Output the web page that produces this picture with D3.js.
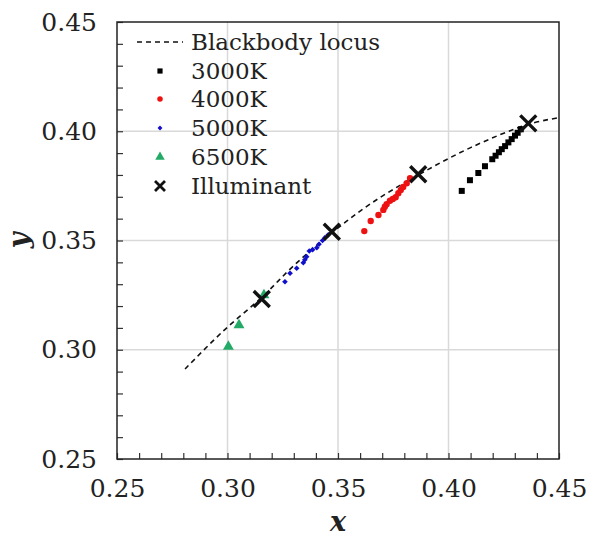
<!DOCTYPE html>
<meta charset="utf-8">
<div id="area"></div>
<script src="https://d3js.org/d3.v7.min.js"></script>
<style>
  body { margin: 0; background: #fff; }
  text { font-family: "DejaVu Serif", serif; fill: #222; }
  .legend text { font-size: 23px; }
  .axis-title { font-size: 27px; font-weight: bold; font-style: italic; }
</style>
<script>
// chromaticity points, [x, y]
var cct3000 = [[0.4060,0.3727],[0.4097,0.3776],[0.4135,0.3809],[0.4165,0.3840],[0.4198,0.3872],
  [0.4213,0.3888],[0.4228,0.3904],[0.4241,0.3918],[0.4256,0.3932],[0.4271,0.3949],
  [0.4286,0.3964],[0.4301,0.3980],[0.4313,0.3993],[0.4327,0.4009]];
var cct4000 = [[0.3619,0.3543],[0.3648,0.3589],[0.3683,0.3617],[0.3705,0.3640],[0.3712,0.3655],
  [0.3720,0.3666],[0.3735,0.3682],[0.3748,0.3690],[0.3761,0.3698],[0.3773,0.3716],
  [0.3784,0.3731],[0.3795,0.3745],[0.3811,0.3762],[0.3826,0.3785]];
var cct5000 = [[0.3260,0.3311],[0.3283,0.3350],[0.3313,0.3373],[0.3343,0.3398],[0.3350,0.3412],
  [0.3358,0.3426],[0.3370,0.3452],[0.3385,0.3458],[0.3404,0.3467],[0.3414,0.3483],
  [0.3430,0.3500],[0.3441,0.3513],[0.3456,0.3526]];
var cct6500 = [[0.3004,0.3014],[0.3052,0.3113],[0.3165,0.3250]];
var illuminants = [[0.3155,0.3232],[0.3472,0.3540],[0.3863,0.3803],[0.4361,0.4036]];
var locus = [[0.2808,0.2912],[0.2980,0.3085],[0.3155,0.3240],[0.3300,0.3385],[0.3472,0.3535],
  [0.3650,0.3670],[0.3863,0.3800],[0.4100,0.3925],[0.4361,0.4032],[0.4500,0.4062]];
var ticks = [0.25, 0.30, 0.35, 0.40, 0.45];

var W = 590, H = 540;
var margin = {top: 22, right: 31, bottom: 81, left: 117};

var svg = d3.select("#area").append("svg")
  .attr("width", W).attr("height", H);

var x = d3.scaleLinear().domain([0.25, 0.45]).range([margin.left, W - margin.right]);
var y = d3.scaleLinear().domain([0.25, 0.45]).range([H - margin.bottom, margin.top]);

// grid
svg.append("g").selectAll("line").data(ticks.slice(1, -1)).enter().append("line")
  .attr("x1", function(d) { return x(d); }).attr("x2", function(d) { return x(d); })
  .attr("y1", y(0.25)).attr("y2", y(0.45))
  .attr("stroke", "#d9d9d9").attr("stroke-width", 1.5);
svg.append("g").selectAll("line").data(ticks.slice(1, -1)).enter().append("line")
  .attr("y1", function(d) { return y(d); }).attr("y2", function(d) { return y(d); })
  .attr("x1", x(0.25)).attr("x2", x(0.45))
  .attr("stroke", "#d9d9d9").attr("stroke-width", 1.5);

// minor ticks, inward
var minor = d3.range(0, 21).map(function(i) { return 0.25 + i * 0.01; });
svg.append("g").attr("transform", "translate(0," + y(0.25) + ")")
  .call(d3.axisBottom(x).tickValues(minor).tickSize(-6).tickFormat(""))
  .call(function(g) { g.select(".domain").remove(); })
  .selectAll("line").attr("stroke", "#333").attr("stroke-width", 1.2);
svg.append("g").attr("transform", "translate(" + x(0.25) + ",0)")
  .call(d3.axisLeft(y).tickValues(minor).tickSize(-6).tickFormat(""))
  .call(function(g) { g.select(".domain").remove(); })
  .selectAll("line").attr("stroke", "#333").attr("stroke-width", 1.2);

// labels
svg.append("g").attr("transform", "translate(0," + y(0.25) + ")")
  .call(d3.axisBottom(x).tickValues(ticks).tickSize(0).tickPadding(15).tickFormat(d3.format(".2f")))
  .call(function(g) { g.select(".domain").remove(); })
  .selectAll("text").attr("fill", "#222").attr("dy", "0.9em");
svg.append("g").attr("transform", "translate(" + x(0.25) + ",0)")
  .call(d3.axisLeft(y).tickValues(ticks).tickSize(0).tickPadding(20).tickFormat(d3.format(".2f")))
  .call(function(g) { g.select(".domain").remove(); })
  .selectAll("text").attr("fill", "#222");
svg.selectAll(".tick text").style("font-family", "'DejaVu Serif', serif").style("font-size", "25px");

// frame
svg.append("rect")
  .attr("x", x(0.25)).attr("y", y(0.45))
  .attr("width", x(0.45) - x(0.25)).attr("height", y(0.25) - y(0.45))
  .attr("fill", "none").attr("stroke", "#222").attr("stroke-width", 1.5);

svg.append("text").attr("class", "axis-title")
  .attr("x", x(0.35)).attr("y", 531).attr("text-anchor", "middle").text("x");
svg.append("text").attr("class", "axis-title")
  .attr("transform", "translate(28," + y(0.35) + ") rotate(-90)")
  .attr("text-anchor", "middle").text("y");

// blackbody locus
svg.append("path")
  .datum(locus)
  .attr("d", d3.line().x(function(d) { return x(d[0]); }).y(function(d) { return y(d[1]); })
    .curve(d3.curveCatmullRom))
  .attr("fill", "none").attr("stroke", "#111").attr("stroke-width", 1.6)
  .attr("stroke-dasharray", "5,4");

// rot = extra rotation so the 5000K marker is a square diamond
var series = [
  {name: "3000K", data: cct3000, shape: d3.symbolSquare, size: 36, rot: 0, color: "#000"},
  {name: "4000K", data: cct4000, shape: d3.symbolCircle, size: 32, rot: 0, color: "#ee1111"},
  {name: "5000K", data: cct5000, shape: d3.symbolSquare, size: 16, rot: 45, color: "#1010cc"},
  {name: "6500K", data: cct6500, shape: d3.symbolTriangle, size: 52, rot: 0, color: "#22aa66"}
];

series.forEach(function(s) {
  svg.append("g").selectAll("path").data(s.data).enter().append("path")
    .attr("transform", function(d) {
      return "translate(" + x(d[0]) + "," + y(d[1]) + ") rotate(" + s.rot + ")";
    })
    .attr("d", d3.symbol().type(s.shape).size(s.size))
    .attr("fill", s.color);
});

function cross(g, r, w) {
  g.append("path")
    .attr("d", "M" + (-r) + "," + (-r) + "L" + r + "," + r + "M" + (-r) + "," + r + "L" + r + "," + (-r))
    .attr("stroke", "#111").attr("stroke-width", w).attr("fill", "none");
}
svg.append("g").selectAll("g").data(illuminants).enter().append("g")
  .attr("transform", function(d) { return "translate(" + x(d[0]) + "," + y(d[1]) + ")"; })
  .each(function() { cross(d3.select(this), 8, 3.4); });

// legend
var lg = svg.append("g").attr("class", "legend");
var rowY = [42, 71, 99, 128, 157, 186];
lg.append("line").attr("x1", 137).attr("x2", 183).attr("y1", rowY[0]).attr("y2", rowY[0])
  .attr("stroke", "#111").attr("stroke-width", 1.6).attr("stroke-dasharray", "5,4");
lg.append("text").attr("x", 191).attr("y", rowY[0]).attr("dy", "0.35em").text("Blackbody locus");
series.forEach(function(s, i) {
  lg.append("path").attr("transform", "translate(160," + rowY[i + 1] + ") rotate(" + s.rot + ")")
    .attr("d", d3.symbol().type(s.shape).size(s.size * 0.75)).attr("fill", s.color);
  lg.append("text").attr("x", 191).attr("y", rowY[i + 1]).attr("dy", "0.35em").text(s.name);
});
cross(lg.append("g").attr("transform", "translate(160," + rowY[5] + ")"), 5, 2.8);
lg.append("text").attr("x", 191).attr("y", rowY[5]).attr("dy", "0.35em").text("Illuminant");
</script>
